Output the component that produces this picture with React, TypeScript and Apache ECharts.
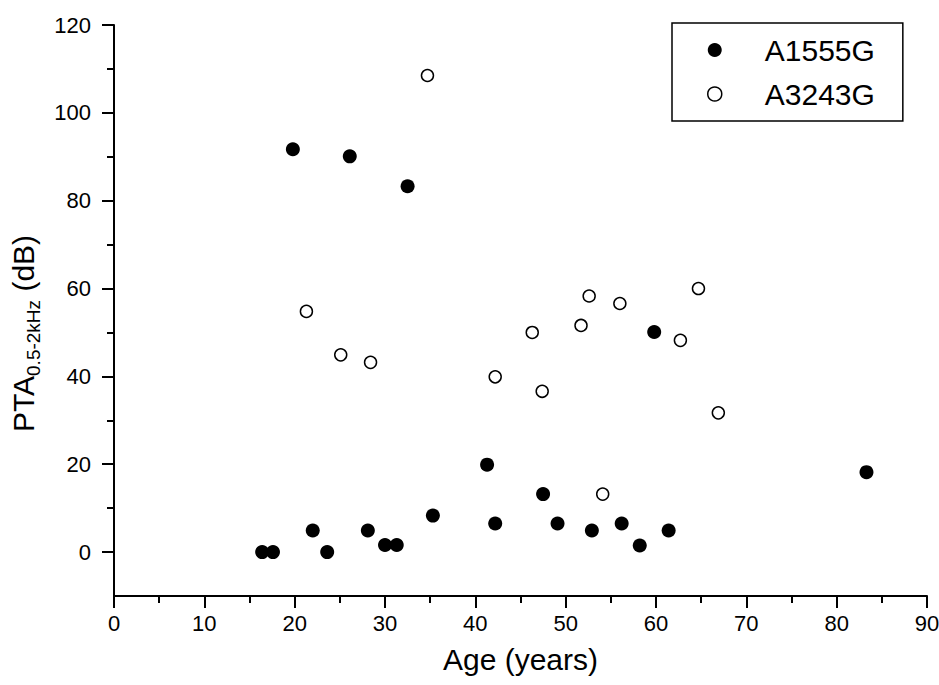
import React, { useEffect, useRef } from "react";
import * as echarts from "echarts";

const seriesNames = ["A1555G", "A3243G"];

const a1555gAge = [16.4, 17.6, 19.8, 22.0, 23.6, 26.1, 28.1, 30.0, 31.3, 32.5, 35.3, 41.3, 42.2, 47.5, 49.1, 52.9, 56.2, 58.2, 59.8, 61.4, 83.3];
const a1555gPta = [0, 0, 91.7, 4.9, 0, 90.1, 4.9, 1.6, 1.6, 83.3, 8.3, 19.9, 6.5, 13.2, 6.5, 4.9, 6.5, 1.5, 50.1, 4.9, 18.2];

const a3243gAge = [21.3, 25.1, 28.4, 34.7, 42.2, 46.3, 47.4, 51.7, 52.6, 54.1, 56.0, 62.7, 64.7, 66.9];
const a3243gPta = [54.8, 44.9, 43.2, 108.5, 39.9, 50.0, 36.6, 51.6, 58.3, 13.2, 56.6, 48.2, 60.0, 31.7];

const xTicks = [0, 10, 20, 30, 40, 50, 60, 70, 80, 90];
const yTicks = [0, 20, 40, 60, 80, 100, 120];
const yMinorTicks = [10, 30, 50, 70, 90, 110];

const FONT = "'Liberation Sans', Arial, Helvetica, sans-serif";

export default function App() {
  const ref = useRef<HTMLDivElement>(null);

  useEffect(() => {
    if (!ref.current) return;
    const chart = echarts.init(ref.current, null, { renderer: "svg" });
    const filled = a1555gAge.map((a, i) => [a, a1555gPta[i]]);
    const open = a3243gAge.map((a, i) => [a, a3243gPta[i]]);
    const axisLine = { show: true, lineStyle: { color: "#000", width: 2 } };
    chart.setOption({
      animation: false,
      backgroundColor: "#fff",
      textStyle: { fontFamily: FONT, color: "#000" },
      grid: { left: 114, right: 12, top: 25, bottom: 89, containLabel: false, outerBoundsMode: "none" },
      legend: {
        orient: "vertical",
        left: 672,
        top: 23,
        padding: [11, 28, 11, 35],
        borderColor: "#000",
        borderWidth: 1.5,
        itemWidth: 14,
        itemHeight: 14,
        itemGap: 12,
        textStyle: { fontFamily: FONT, fontSize: 30, lineHeight: 32, color: "#000", padding: [0, 0, 0, 38] },
        data: [
          { name: seriesNames[0], icon: "circle", itemStyle: { color: "#000", borderWidth: 0 } },
          { name: seriesNames[1], icon: "circle", itemStyle: { color: "#fff", borderColor: "#000", borderWidth: 1.5 } },
        ],
      },
      xAxis: {
        type: "value",
        min: xTicks[0],
        max: xTicks[xTicks.length - 1],
        interval: 10,
        name: "Age (years)",
        nameLocation: "middle",
        nameGap: 48,
        nameTextStyle: { fontFamily: FONT, fontSize: 30, color: "#000" },
        axisLine: { ...axisLine, onZero: false },
        axisTick: { show: true, length: 12, lineStyle: { color: "#000", width: 2 } },
        minorTick: { show: true, splitNumber: 2, length: 7, lineStyle: { color: "#000", width: 2 } },
        axisLabel: { fontFamily: FONT, fontSize: 22, color: "#000", margin: 16, customValues: xTicks },
        splitLine: { show: false },
      },
      yAxis: [
        {
          type: "value",
          min: -10,
          max: 120,
          position: "left",
          name: "{m|PTA}{s|0.5-2kHz}{m| (dB)}",
          nameLocation: "middle",
          nameGap: 70,
          nameRotate: 90,
          nameTextStyle: {
            fontFamily: FONT,
            color: "#000",
            padding: [0, 46, 0, 0],
            rich: {
              m: { fontFamily: FONT, fontSize: 30, lineHeight: 40, color: "#000", verticalAlign: "middle" },
              s: { fontFamily: FONT, fontSize: 19, lineHeight: 18, color: "#000", verticalAlign: "bottom" },
            },
          },
          axisLine: { ...axisLine, onZero: false },
          axisTick: { show: true, length: 12, customValues: yTicks, lineStyle: { color: "#000", width: 2 } },
          axisLabel: { fontFamily: FONT, fontSize: 22, color: "#000", margin: 23, customValues: yTicks },
          splitLine: { show: false },
        },
        {
          type: "value",
          min: -10,
          max: 120,
          position: "left",
          offset: 0,
          axisLine: { show: false },
          axisTick: { show: true, length: 7, customValues: yMinorTicks, lineStyle: { color: "#000", width: 2 } },
          axisLabel: { show: false },
          splitLine: { show: false },
        },
      ],
      series: [
        {
          name: seriesNames[0],
          type: "scatter",
          data: filled,
          symbol: "circle",
          symbolSize: 14,
          itemStyle: { color: "#000", opacity: 1 },
          z: 2,
        },
        {
          name: seriesNames[1],
          type: "scatter",
          data: open,
          symbol: "circle",
          symbolSize: 12,
          itemStyle: { color: "#fff", borderColor: "#000", borderWidth: 1.5, opacity: 1 },
          z: 3,
        },
      ],
    });
    return () => chart.dispose();
  }, []);

  return (
    <div
      ref={ref}
      style={{ position: "absolute", left: 0, top: 0, width: 939, height: 685, background: "#fff" }}
    />
  );
}
